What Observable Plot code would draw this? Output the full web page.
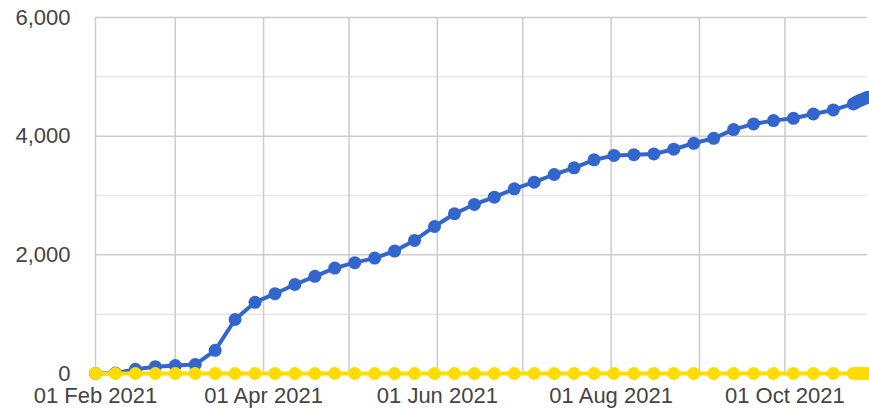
<!DOCTYPE html>
<html>
<head>
<meta charset="utf-8">
<script src="https://cdn.jsdelivr.net/npm/d3@7"></script>
<script src="https://cdn.jsdelivr.net/npm/@observablehq/plot@0.6"></script>
<style>
  html, body { margin: 0; padding: 0; background: #fff; }
  #chart svg { display: block; overflow: visible; }
</style>
</head>
<body>
<div id="chart"></div>
<script>
const dates = [
  "2021-02-01","2021-02-08","2021-02-15","2021-02-22",
  "2021-03-01","2021-03-08","2021-03-15","2021-03-22","2021-03-29",
  "2021-04-05","2021-04-12","2021-04-19","2021-04-26",
  "2021-05-03","2021-05-10","2021-05-17","2021-05-24","2021-05-31",
  "2021-06-07","2021-06-14","2021-06-21","2021-06-28",
  "2021-07-05","2021-07-12","2021-07-19","2021-07-26",
  "2021-08-02","2021-08-09","2021-08-16","2021-08-23","2021-08-30",
  "2021-09-06","2021-09-13","2021-09-20","2021-09-27",
  "2021-10-04","2021-10-11","2021-10-18","2021-10-25",
  "2021-10-26","2021-10-27","2021-10-28","2021-10-29","2021-10-30"
];
const blueValues = [
  0, 8, 70, 115, 135, 150, 390, 910, 1200, 1345, 1500, 1637, 1777,
  1868, 1945, 2063, 2243, 2478, 2692, 2849, 2972, 3113, 3224, 3354,
  3466, 3601, 3675, 3688, 3700, 3780, 3880, 3964, 4111, 4206, 4262,
  4301, 4374, 4442, 4543, 4570, 4595, 4615, 4635, 4654
];
const yellowValues = [
  0, 0, 0, 0, 0, 0, 0, 0, 0, 0, 0, 0, 0, 0, 0, 0, 0, 0, 0, 0, 0, 0,
  0, 0, 0, 0, 0, 0, 0, 0, 0, 0, 0, 0, 0, 0, 0, 0, 0, 0, 0, 0, 0, 0
];
const yMajorTicks = [0, 2000, 4000, 6000];
const yMinorTicks = [1000, 3000, 5000];
const monthGrid = ["2021-02-01","2021-03-01","2021-04-01","2021-05-01","2021-06-01",
                   "2021-07-01","2021-08-01","2021-09-01","2021-10-01"];
const xLabelTicks = ["2021-02-01","2021-04-01","2021-06-01","2021-08-01","2021-10-01"];
const xDomain = ["2021-02-01","2021-10-30"];

const parse = d3.utcParse("%Y-%m-%d");
const blue = dates.map((d, i) => ({date: parse(d), value: blueValues[i]}));
const yellow = dates.map((d, i) => ({date: parse(d), value: yellowValues[i]}));

const W = 869, H = 409;
const mL = 95, mR = 2, mT = 17, mB = 36;

const chart = Plot.plot({
  width: W,
  height: H,
  marginLeft: mL,
  marginRight: mR,
  marginTop: mT,
  marginBottom: mB,
  style: {fontFamily: "'Liberation Sans', Arial, sans-serif", fontSize: "22px", color: "#444", background: "#fff"},
  x: {type: "utc", domain: xDomain.map(parse)},
  y: {domain: [0, 6000]},
  marks: [
    Plot.ruleY(yMinorTicks, {stroke: "#e8e8e8", strokeWidth: 1.5}),
    Plot.ruleY(yMajorTicks, {stroke: "#cccccc", strokeWidth: 1.5}),
    Plot.ruleX(monthGrid.map(parse), {stroke: "#cccccc", strokeWidth: 1.5}),
    Plot.axisY({ticks: yMajorTicks, tickSize: 0, tickPadding: 25, tickFormat: d3.format(","), fill: "#444", fontSize: 22, label: null}),
    Plot.axisX({ticks: xLabelTicks.map(parse), tickSize: 0, tickPadding: 14, tickFormat: d3.utcFormat("%d %b %Y"), fill: "#444", fontSize: 22, label: null}),
    Plot.line(blue, {x: "date", y: "value", stroke: "#3366cc", strokeWidth: 4}),
    Plot.dot(blue, {x: "date", y: "value", fill: "#3366cc", stroke: "none", r: 6.5}),
    Plot.line(yellow, {x: "date", y: "value", stroke: "#ffdc00", strokeWidth: 4}),
    Plot.dot(yellow, {x: "date", y: "value", fill: "#ffdc00", stroke: "none", r: 6.5})
  ]
});
document.getElementById("chart").appendChild(chart);
</script>
</body>
</html>
